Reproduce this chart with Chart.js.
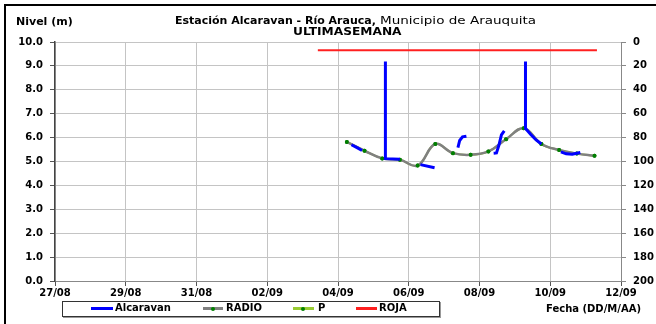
<!DOCTYPE html>
<html>
<head>
<meta charset="utf-8">
<script src="https://cdn.jsdelivr.net/npm/chart.js@4.4.1/dist/chart.umd.min.js"></script>
<style>
html,body{margin:0;padding:0;background:#fff;}
#wrap{position:relative;width:656px;height:324px;overflow:hidden;background:#fff;}
#c{position:absolute;left:0;top:0;}
.t{position:absolute;white-space:nowrap;font-family:"DejaVu Sans",sans-serif;color:#000;line-height:12px;height:12px;transform-origin:0 50%;}
.b{font-weight:bold;}
#frame{position:absolute;left:4px;top:4px;width:700px;height:400px;border-left:2px solid #000;border-top:2px solid #000;}
#legend{position:absolute;left:62px;top:301px;width:376px;height:14px;border:1px solid #333;box-shadow:1px 1px 0 #999;background:#fff;}
.lg{position:absolute;height:3px;}
.dot{position:absolute;width:4px;height:4px;border-radius:2px;background:#008000;}
</style>
</head>
<body>
<div id="wrap">
  <div id="frame"></div>
  <canvas id="c" width="656" height="324"></canvas>
  <div class="t b" style="left:16px;top:16px;font-size:11px;">Nivel (m)</div>
  <div class="t b" style="left:175px;top:15px;font-size:11px;">Estación Alcaravan - Río Arauca,</div>
  <div class="t" style="left:380px;top:15px;font-size:11px;transform:scaleX(1.23);">Municipio de Arauquita</div>
  <div class="t b" style="left:293px;top:26px;font-size:11px;transform:scaleX(1.11);">ULTIMASEMANA</div>
  <div class="t b" style="left:546px;top:303px;font-size:10px;">Fecha (DD/M/AA)</div>
  <div id="legend"></div>
  <div class="lg" style="left:91px;top:307px;width:22px;background:#0000ff;"></div>
  <div class="t b" style="left:115px;top:302px;font-size:10px;">Alcaravan</div>
  <div class="lg" style="left:203px;top:307px;width:20px;background:#808080;"></div>
  <div class="dot" style="left:211px;top:306.5px;"></div>
  <div class="t b" style="left:226px;top:302px;font-size:10px;">RADIO</div>
  <div class="lg" style="left:293px;top:307px;width:21px;background:#99cc33;"></div>
  <div class="dot" style="left:301px;top:306.5px;"></div>
  <div class="t b" style="left:318px;top:302px;font-size:10px;">P</div>
  <div class="lg" style="left:356px;top:307px;width:21px;background:#ff2020;"></div>
  <div class="t b" style="left:379px;top:302px;font-size:10px;">ROJA</div>
</div>
<script>
// ---- data (x values are days since 27/08 00:00) ----
const XTICK_DAYS   = [0, 2, 4, 6, 8, 10, 12, 14, 16];
const XTICK_LABELS = ['27/08','29/08','31/08','02/09','04/09','06/09','08/09','10/09','12/09'];
const Y_LEFT_TICKS  = [0,1,2,3,4,5,6,7,8,9,10];
const Y_RIGHT_TICKS = [0,20,40,60,80,100,120,140,160,180,200];

const RADIO_DAYS = [8.25, 8.75, 9.25, 9.75, 10.25, 10.75, 11.25, 11.75, 12.25, 12.75, 13.25, 13.75, 14.25, 14.75, 15.25];
const RADIO      = [5.82, 5.45, 5.13, 5.07, 4.83, 5.73, 5.35, 5.28, 5.42, 5.93, 6.39, 5.73, 5.48, 5.33, 5.24];
const P_DAYS     = [8.25, 8.75, 9.25, 9.75, 10.25, 10.75, 11.25, 11.75, 12.25, 12.75, 13.25, 13.75, 14.25, 14.75, 15.25];
const P          = [5.82, 5.45, 5.13, 5.07, 4.83, 5.73, 5.35, 5.28, 5.42, 5.93, 6.39, 5.73, 5.48, 5.33, 5.24];

const ALC_DAYS  = [8.38, 8.55, 8.68, 8.70,
                   9.34, 9.34, 9.75, 9.80,
                   10.33, 10.73, 10.80,
                   11.39, 11.44, 11.52, 11.63, 11.70,
                   12.40, 12.48, 12.55, 12.62, 12.70, 12.80,
                   13.30, 13.30, 13.45, 13.60, 13.75, 13.85,
                   14.30, 14.45, 14.62, 14.85];
const ALCARAVAN = [5.70, 5.57, 5.46, null,
                   9.18, 5.12, 5.09, null,
                   4.87, 4.74, null,
                   5.58, 5.88, 6.03, 6.06, null,
                   5.35, 5.36, 5.69, 6.11, 6.28, null,
                   9.18, 6.38, 6.13, 5.90, 5.73, null,
                   5.40, 5.32, 5.30, 5.38];

const ROJA_DAYS = [7.43, 15.32];
const ROJA      = [9.65, 9.65];

const pts = (xs, ys) => xs.map((x, i) => ({x: x, y: ys[i]}));

const FONT = {family: 'DejaVu Sans', size: 10, weight: 'bold'};

new Chart(document.getElementById('c'), {
  type: 'line',
  data: {
    datasets: [
      {label: 'Alcaravan', data: pts(ALC_DAYS, ALCARAVAN), borderColor: '#0000ff', borderWidth: 3,
       pointRadius: 0, tension: 0, spanGaps: false, yAxisID: 'y'},
      {label: 'RADIO', data: pts(RADIO_DAYS, RADIO), borderColor: '#808080', borderWidth: 2.5,
       pointRadius: 2, pointBackgroundColor: '#008000', pointBorderWidth: 0, tension: 0.4, yAxisID: 'y'},
      {label: 'P', data: pts(P_DAYS, P), borderColor: '#99cc33', borderWidth: 2,
       pointRadius: 2, pointBackgroundColor: '#006600', pointBorderWidth: 0, tension: 0.4, yAxisID: 'y'},
      {label: 'ROJA', data: pts(ROJA_DAYS, ROJA), borderColor: '#ff2020', borderWidth: 2,
       pointRadius: 0, tension: 0, yAxisID: 'y'}
    ]
  },
  options: {
    responsive: false,
    animation: false,
    devicePixelRatio: 1,
    layout: {padding: {top: 42, left: 0, right: 0, bottom: 0}},
    plugins: {legend: {display: false}, title: {display: false}, tooltip: {enabled: false}},
    scales: {
      x: {
        type: 'linear', position: 'bottom', min: 0, max: 16,
        afterBuildTicks: s => { s.ticks = XTICK_DAYS.map(v => ({value: v})); },
        afterFit: s => { s.height = 43; },
        ticks: {font: FONT, color: '#000', padding: 1, maxRotation: 0, autoSkip: false,
                callback: (v, i) => XTICK_LABELS[i]},
        grid: {color: '#c4c4c4', tickColor: '#555', tickLength: 5, lineWidth: 1},
        border: {color: '#888', width: 1}
      },
      y: {
        type: 'linear', position: 'left', min: 0, max: 10,
        afterBuildTicks: s => { s.ticks = Y_LEFT_TICKS.map(v => ({value: v})); },
        afterFit: s => { s.width = 55; },
        ticks: {font: FONT, color: '#000', padding: 7, callback: (v) => Number(v).toFixed(1)},
        grid: {color: '#c4c4c4', tickColor: '#555', tickLength: 5, lineWidth: 1},
        border: {color: '#444', width: 1.5}
      },
      y2: {
        type: 'linear', position: 'right', min: 0, max: 200, reverse: true,
        afterBuildTicks: s => { s.ticks = Y_RIGHT_TICKS.map(v => ({value: v})); },
        afterFit: s => { s.width = 35; },
        ticks: {font: FONT, color: '#000', padding: 7, callback: (v) => String(v)},
        grid: {drawOnChartArea: false, tickColor: '#888', tickLength: 5},
        border: {color: '#888', width: 1}
      }
    }
  }
});
</script>
</body>
</html>
